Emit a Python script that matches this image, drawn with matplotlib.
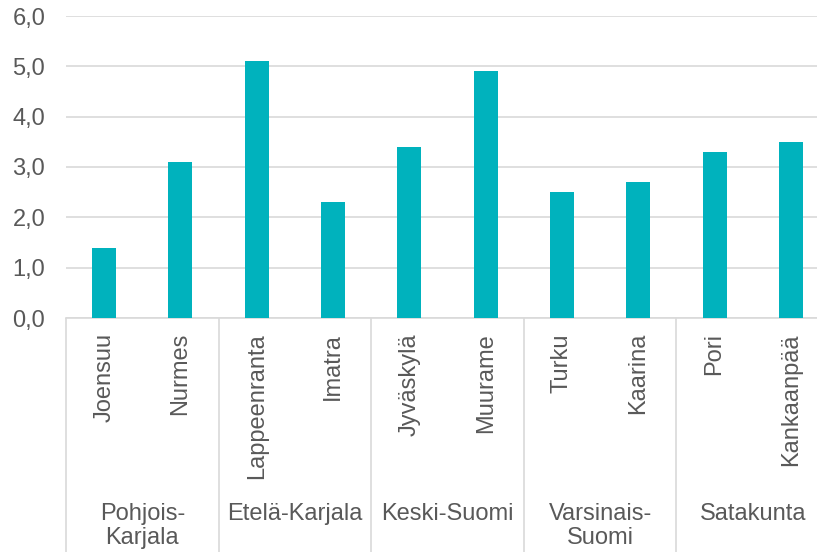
import matplotlib
matplotlib.use("Agg")
import matplotlib.pyplot as plt
import matplotlib.transforms as mtransforms

cities = ["Joensuu", "Nurmes", "Lappeenranta", "Imatra", "Jyväskylä",
          "Muurame", "Turku", "Kaarina", "Pori", "Kankaanpää"]
values = [1.4, 3.1, 5.1, 2.3, 3.4, 4.9, 2.5, 2.7, 3.3, 3.5]
regions = ["Pohjois-\nKarjala", "Etelä-Karjala", "Keski-Suomi",
           "Varsinais-\nSuomi", "Satakunta"]

plt.rcParams["font.family"] = ["Liberation Sans", "DejaVu Sans"]
text_col = "#595959"
grid_col = "#D9D9D9"

fig = plt.figure(figsize=(8.17, 5.52), dpi=100)
ax = fig.add_axes([66 / 817, 234 / 552, 763 / 817, 302 / 552])

x = list(range(len(cities)))
ax.bar(x, values, width=0.315, color="#00B2BD", zorder=3)

ax.set_xlim(-0.5, len(cities) - 0.5)
ax.set_ylim(0, 6)
ax.set_yticks(range(7))
ax.set_yticklabels([f"{v},0" for v in range(7)], fontsize=17, color=text_col)
ax.tick_params(axis="y", length=0, pad=15)
ax.set_xticks([])
ax.grid(axis="y", color=grid_col, linewidth=1.2, zorder=0)
for s in ["top", "right", "left"]:
    ax.spines[s].set_visible(False)
ax.spines["bottom"].set_color(grid_col)
ax.spines["bottom"].set_linewidth(1.2)

trans = mtransforms.blended_transform_factory(ax.transData, ax.transAxes)
for xi, name in zip(x, cities):
    ax.text(xi, -0.05, name, rotation=90, ha="center", va="top",
            fontsize=17, color=text_col, transform=trans)

for i, reg in enumerate(regions):
    ax.text(2 * i + 0.5, -0.612, reg, ha="center", va="top", fontsize=17,
            color=text_col, transform=trans, linespacing=1.15)

seps = [2 * i - 0.5 for i in range(len(regions) + 1)]
ax.vlines(seps, -0.8, 0, colors=grid_col, linewidth=1.2,
          transform=trans, clip_on=False)

fig.savefig("out.png", dpi=100)
